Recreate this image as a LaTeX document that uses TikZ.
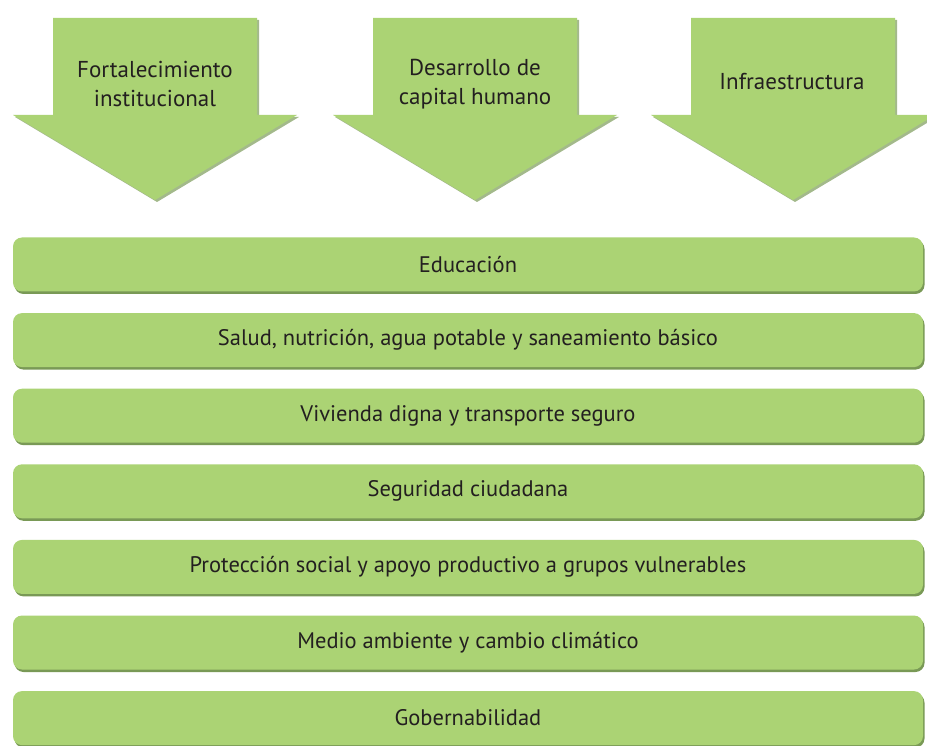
\documentclass[tikz,border=0pt]{standalone}
\usepackage{fontspec}
\setmainfont{PT Sans}
\usetikzlibrary{shadows}

\definecolor{verde}{RGB}{171,211,116}
\definecolor{verdeosc}{RGB}{88,128,44}
\definecolor{texto}{RGB}{35,31,32}

\tikzset{
    flecha/.style={fill=verde, drop shadow={shadow xshift=2pt, shadow yshift=-2pt, fill=verdeosc, opacity=.55}},
    barra/.style={fill=verde, rounded corners=9pt, minimum width=910pt, minimum height=54pt,
                  inner sep=0pt, text=texto, font=\fontsize{22.5}{27}\selectfont,
                  drop shadow={shadow xshift=1.5pt, shadow yshift=-2.5pt, fill=verdeosc, opacity=.8}},
    rotulo/.style={align=center, text=texto, font=\fontsize{23}{29}\selectfont}
}

\begin{document}
\begin{tikzpicture}[x=1pt, y=-1pt]
            \useasboundingbox (0,0) rectangle (927,746);

            \fill[flecha] (53,18) -- (257,18) -- (257,115) -- (297,115) -- (155,200) -- (13,115) -- (53,115) -- cycle;
            \fill[flecha] (373,18) -- (577,18) -- (577,115) -- (617,115) -- (475,200) -- (333,115) -- (373,115) -- cycle;
            \fill[flecha] (691,18) -- (895,18) -- (895,115) -- (935,115) -- (793,200) -- (651,115) -- (691,115) -- cycle;

            \node[rotulo] (fort)  at (155,84) {Fortalecimiento\\institucional};
            \node[rotulo] (desa)  at (475,84) {Desarrollo de\\capital humano};
            \node[rotulo] (infra) at (792,82) {Infraestructura};

            \node[barra] (educ) at (468,264.5) {Educación};
            \node[barra] (salud) at (468,340.1) {Salud, nutrición, agua potable y saneamiento básico};
            \node[barra] (viv)  at (468,415.7) {Vivienda digna y transporte seguro};
            \node[barra] (seg)  at (468,491.3) {Seguridad ciudadana};
            \node[barra] (prot) at (468,566.9) {Protección social y apoyo productivo a grupos vulnerables};
            \node[barra] (medio) at (468,642.5) {Medio ambiente y cambio climático};
            \node[barra] (gob)  at (468,718.1) {Gobernabilidad};
        \end{tikzpicture}
\end{document}
